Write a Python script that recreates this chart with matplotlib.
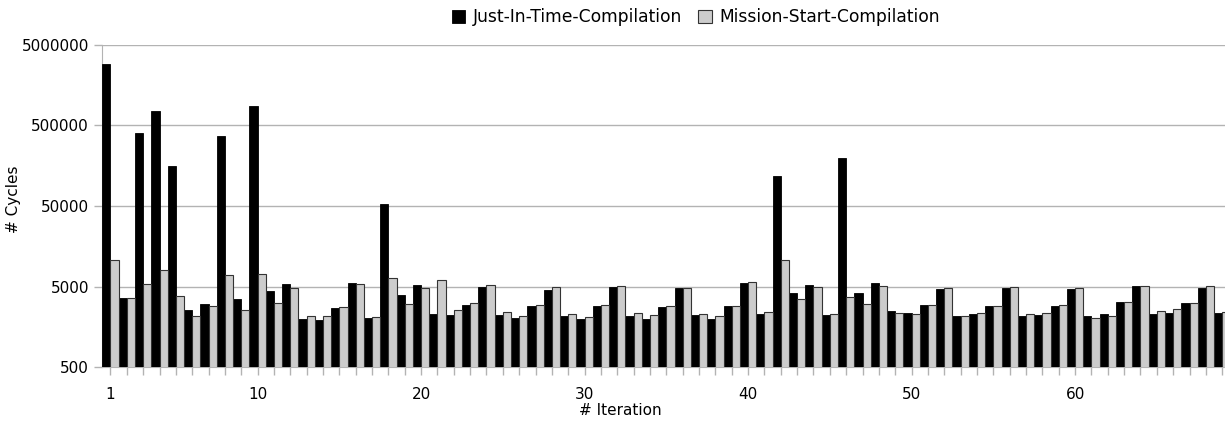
import numpy as np
import matplotlib
matplotlib.use("Agg")
import matplotlib.pyplot as plt

# cycles per iteration
iterations = list(range(1, 70))
jit = [2840000, 3580, 403000, 756000, 155000, 2560, 3070, 364000, 3480, 865000,
       4370, 5340, 2000, 1910, 2720, 5490, 2020, 52300, 3940, 5240,
       2290, 2200, 2960, 4950, 2240, 2020, 2880, 4540, 2180, 1970,
       2850, 4900, 2140, 1970, 2790, 4760, 2220, 1970, 2850, 5490,
       2270, 117000, 4130, 5240, 2220, 196000, 4210, 5580, 2490, 2330,
       2960, 4630, 2140, 2270, 2880, 4840, 2140, 2240, 2850, 4670,
       2140, 2270, 3250, 5040, 2290, 2350, 3160, 4840, 2350]
msc = [10600, 3580, 5340, 8090, 3790, 2140, 2880, 6900, 2540, 7100,
       3160, 4760, 2140, 2140, 2820, 5370, 2100, 6440, 3040, 4800,
       6090, 2540, 3100, 5190, 2420, 2160, 2930, 4900, 2270, 2100,
       2930, 5040, 2380, 2200, 2900, 4800, 2270, 2140, 2900, 5750,
       2400, 10600, 3480, 4950, 2310, 3750, 3070, 5130, 2330, 2270,
       2930, 4800, 2180, 2330, 2900, 4900, 2310, 2330, 2960, 4760,
       2060, 2160, 3230, 5130, 2470, 2620, 3100, 5040, 2400]
y_ticks = [500, 5000, 50000, 500000, 5000000]
x_labeled = [1, 10, 20, 30, 40, 50, 60]

plt.rcParams["font.family"] = "DejaVu Sans"
plt.rcParams["font.size"] = 11

fig = plt.figure(figsize=(12.25, 4.21), dpi=100)
ax = fig.add_axes([0.0835, 0.1276, 0.9165, 0.7666])

x = np.array(iterations)
w = 0.5
ax.bar(x - w / 2, jit, width=w, color="black", edgecolor="black", linewidth=0.6,
       label="Just-In-Time-Compilation", zorder=3)
ax.bar(x + w / 2, msc, width=w, color="#cccccc", edgecolor="#333333", linewidth=0.8,
       label="Mission-Start-Compilation", zorder=3)

ax.set_yscale("log")
ax.set_ylim(500, 5000000)
ax.set_yticks(y_ticks)
ax.set_yticklabels([str(v) for v in y_ticks])
ax.yaxis.set_minor_locator(matplotlib.ticker.NullLocator())
ax.set_xlim(0.5, 69.17)
ax.set_xticks(iterations)
ax.set_xticklabels([str(i) if i in x_labeled else "" for i in iterations])

ax.grid(True, axis="y", color="#b3b3b3", linewidth=1, zorder=0)
for side in ["top", "right"]:
    ax.spines[side].set_visible(False)
for side in ["left", "bottom"]:
    ax.spines[side].set_color("#b3b3b3")
ax.tick_params(axis="both", colors="#b3b3b3", labelcolor="black", length=6, width=1)
ax.tick_params(axis="x", pad=8)

ax.set_xlabel("# Iteration")
ax.xaxis.set_label_coords(0.461, -0.11)
ax.set_ylabel("# Cycles")
ax.yaxis.set_label_coords(-0.0725, 0.52)

fig.legend(loc="center", bbox_to_anchor=(696 / 1225, 1 - 17 / 421), ncol=2,
           frameon=False, fontsize=12.3, handlelength=0.8, handleheight=0.8,
           handletextpad=0.45, columnspacing=0.95)

fig.savefig("out.png", dpi=100)
